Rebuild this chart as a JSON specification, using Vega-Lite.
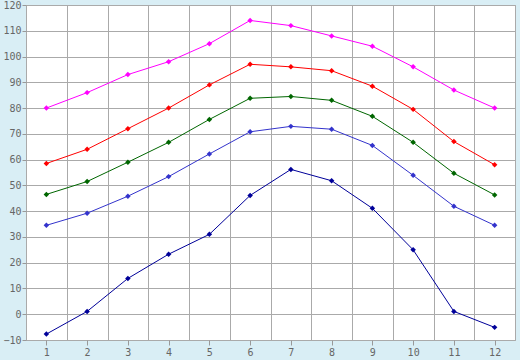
{
  "$schema": "https://vega.github.io/schema/vega-lite/v6.json",
  "width": 489,
  "height": 335,
  "autosize": "none",
  "padding": {"left": 26, "top": 5, "right": 5, "bottom": 20},
  "background": "#d9eef5",
  "config": {
    "view": {"fill": "#ffffff", "stroke": "#aaaaaa", "strokeWidth": 1},
    "axis": {"labelFont": "DejaVu Sans Mono", "labelFontSize": 10, "labelColor": "#666666", "tickColor": "#999999", "gridColor": "#aaaaaa", "gridOpacity": 1, "domain": false}
  },
  "data": {
    "values": [
      {"m": 1, "s": "A", "v": 80}, {"m": 2, "s": "A", "v": 86}, {"m": 3, "s": "A", "v": 93}, {"m": 4, "s": "A", "v": 98}, {"m": 5, "s": "A", "v": 105}, {"m": 6, "s": "A", "v": 114}, {"m": 7, "s": "A", "v": 112}, {"m": 8, "s": "A", "v": 108}, {"m": 9, "s": "A", "v": 104}, {"m": 10, "s": "A", "v": 96}, {"m": 11, "s": "A", "v": 87}, {"m": 12, "s": "A", "v": 80},
      {"m": 1, "s": "B", "v": 58.5}, {"m": 2, "s": "B", "v": 64}, {"m": 3, "s": "B", "v": 72}, {"m": 4, "s": "B", "v": 80}, {"m": 5, "s": "B", "v": 89}, {"m": 6, "s": "B", "v": 97}, {"m": 7, "s": "B", "v": 96}, {"m": 8, "s": "B", "v": 94.5}, {"m": 9, "s": "B", "v": 88.5}, {"m": 10, "s": "B", "v": 79.5}, {"m": 11, "s": "B", "v": 67}, {"m": 12, "s": "B", "v": 58},
      {"m": 1, "s": "C", "v": 46.5}, {"m": 2, "s": "C", "v": 51.5}, {"m": 3, "s": "C", "v": 59}, {"m": 4, "s": "C", "v": 66.7}, {"m": 5, "s": "C", "v": 75.6}, {"m": 6, "s": "C", "v": 83.8}, {"m": 7, "s": "C", "v": 84.5}, {"m": 8, "s": "C", "v": 83}, {"m": 9, "s": "C", "v": 76.8}, {"m": 10, "s": "C", "v": 66.7}, {"m": 11, "s": "C", "v": 54.7}, {"m": 12, "s": "C", "v": 46.3},
      {"m": 1, "s": "D", "v": 34.5}, {"m": 2, "s": "D", "v": 39.2}, {"m": 3, "s": "D", "v": 45.8}, {"m": 4, "s": "D", "v": 53.4}, {"m": 5, "s": "D", "v": 62.2}, {"m": 6, "s": "D", "v": 70.8}, {"m": 7, "s": "D", "v": 72.9}, {"m": 8, "s": "D", "v": 71.8}, {"m": 9, "s": "D", "v": 65.5}, {"m": 10, "s": "D", "v": 53.9}, {"m": 11, "s": "D", "v": 41.9}, {"m": 12, "s": "D", "v": 34.5},
      {"m": 1, "s": "E", "v": -7.7}, {"m": 2, "s": "E", "v": 1.1}, {"m": 3, "s": "E", "v": 13.9}, {"m": 4, "s": "E", "v": 23.3}, {"m": 5, "s": "E", "v": 31}, {"m": 6, "s": "E", "v": 46.1}, {"m": 7, "s": "E", "v": 56.2}, {"m": 8, "s": "E", "v": 51.8}, {"m": 9, "s": "E", "v": 41.1}, {"m": 10, "s": "E", "v": 25}, {"m": 11, "s": "E", "v": 1.1}, {"m": 12, "s": "E", "v": -5.1}
    ]
  },
  "encoding": {
    "y": {"field": "v", "type": "quantitative", "scale": {"domain": [-10, 120], "nice": false}, "axis": {"values": [-10, 0, 10, 20, 30, 40, 50, 60, 70, 80, 90, 100, 110, 120], "title": null, "grid": true, "tickSize": 4, "labelPadding": 1}},
    "color": {"field": "s", "type": "nominal", "scale": {"domain": ["A", "B", "C", "D", "E"], "range": ["#ff00ff", "#ff0000", "#006600", "#3333cc", "#000099"]}, "legend": null}
  },
  "layer": [
    {
      "mark": {"type": "line", "strokeWidth": 1},
      "encoding": {
        "x": {"field": "m", "type": "quantitative", "scale": {"domain": [0.5, 12.5], "nice": false, "zero": false}, "axis": {"values": [1, 2, 3, 4, 5, 6, 7, 8, 9, 10, 11, 12], "title": null, "grid": false, "tickSize": 5, "labelPadding": 2}}
      }
    },
    {
      "mark": {"type": "point", "shape": "diamond", "filled": true, "size": 30, "opacity": 1},
      "encoding": {
        "x": {"field": "m", "type": "quantitative", "axis": {"orient": "top", "values": [0.5, 1.5, 2.5, 3.5, 4.5, 5.5, 6.5, 7.5, 8.5, 9.5, 10.5, 11.5, 12.5], "title": null, "grid": true, "labels": false, "ticks": false}}
      }
    }
  ],
  "resolve": {"axis": {"x": "independent"}}
}
